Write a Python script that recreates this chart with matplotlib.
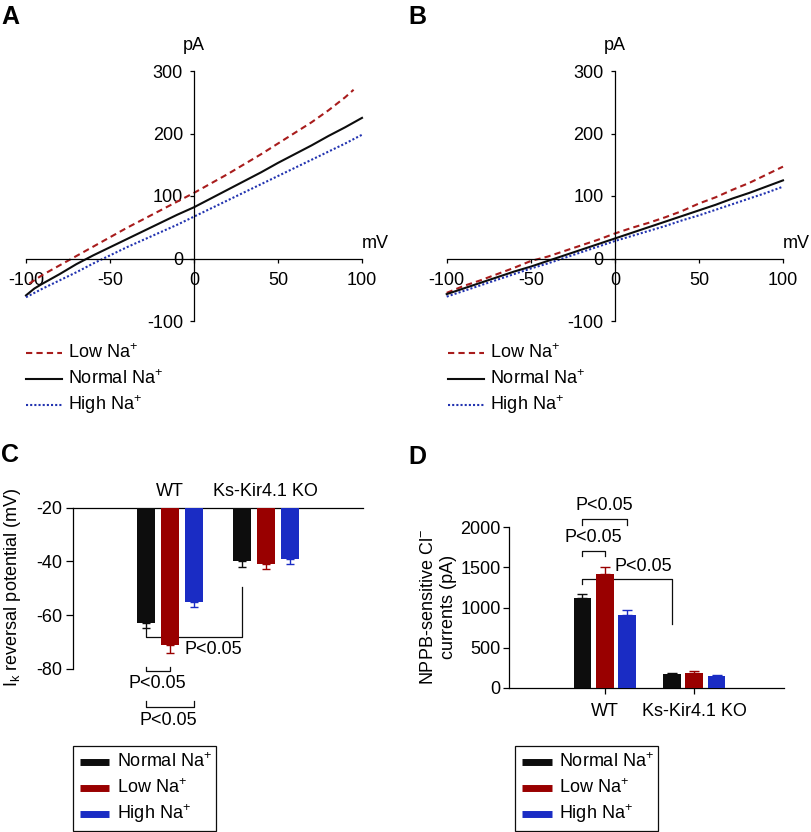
import matplotlib
matplotlib.use("Agg")
import matplotlib.pyplot as plt
import numpy as np

plt.rcParams['font.family'] = ['Liberation Sans', 'DejaVu Sans']
plt.rcParams['mathtext.fontset'] = 'custom'
plt.rcParams['mathtext.rm'] = 'Liberation Sans'
plt.rcParams['mathtext.it'] = 'Liberation Sans:italic'
plt.rcParams['axes.unicode_minus'] = False

# ---------------- data ----------------
# Panel A (WT I-V curves)
vA = [-100, -95, -90, -80, -70, -60, -50, -40, -30, -20, -10, 0, 10, 20, 30, 40, 50, 60, 70, 80, 90, 100]
a_normal = [-59, -48, -40, -25, -9, 5, 18, 31, 44, 57, 70, 82, 96, 110, 124, 138, 153, 167, 181, 196, 210, 225]
vA_low = [-98, -90, -80, -70, -60, -50, -40, -30, -20, -10, 0, 10, 20, 30, 40, 50, 60, 70, 80, 90, 95]
a_low = [-40, -26, -11, 4, 19, 34, 49, 63, 77, 91, 105, 120, 135, 151, 167, 184, 201, 218, 237, 258, 270]
vA_high = [-100, -90, -80, -70, -60, -50, -40, -30, -20, -10, 0, 10, 20, 30, 40, 50, 60, 70, 80, 90, 100]
a_high = [-62, -48, -35, -22, -8, 5, 18, 30, 42, 54, 67, 80, 93, 106, 119, 132, 145, 158, 171, 184, 198]

# Panel B (Ks-Kir4.1 KO I-V curves)
vB = [-100, -90, -80, -70, -60, -50, -40, -30, -20, -10, 0, 10, 20, 30, 40, 50, 60, 70, 80, 90, 100]
b_low = [-55, -44, -35, -25, -15, -4, 3, 12, 21, 30, 40, 49, 57, 66, 76, 88, 98, 110, 121, 134, 147]
b_normal = [-57, -48, -39, -30, -21, -13, -4, 5, 14, 23, 32, 41, 50, 59, 68, 77, 86, 96, 105, 115, 125]
b_high = [-61, -52, -43, -34, -25, -16, -8, 1, 10, 19, 28, 36, 44, 52, 61, 69, 78, 87, 96, 105, 115]

# Panel C (reversal potential)
groups = ["WT", "Ks-Kir4.1 KO"]
conditions = ["Normal Na$^{+}$", "Low Na$^{+}$", "High Na$^{+}$"]
c_mean = {"normal": [-63, -40], "low": [-71.2, -41], "high": [-55.2, -39]}
c_err = {"normal": [2, 2], "low": [2.8, 2], "high": [1.8, 2]}

# Panel D (NPPB-sensitive Cl- currents)
d_mean = {"normal": [1114, 166], "low": [1414, 179], "high": [906, 146]}
d_err = {"normal": [50, 13], "low": [87, 25], "high": [59, 12]}

BLACK = '#0d0d0d'
RED = '#990000'
BLUE = '#1a2cc4'
LRED = '#a81c1c'
LBLUE = '#2233b0'
FS = 13

W, H = 812, 832
fig = plt.figure(figsize=(W / 100, H / 100), dpi=100)


def box(left, top, right, bottom):
    return fig.add_axes([left / W, 1 - bottom / H, (right - left) / W, (bottom - top) / H])


ov = fig.add_axes([0, 0, 1, 1])
ov.set_xlim(0, W)
ov.set_ylim(H, 0)
ov.axis('off')


def iv_panel(ax, data):
    ax.set_xlim(-100, 100)
    ax.set_ylim(-100, 300)
    ax.patch.set_visible(False)
    for s in ['top', 'right']:
        ax.spines[s].set_visible(False)
    ax.spines['left'].set_position(('data', 0))
    ax.spines['bottom'].set_position(('data', 0))
    for s in ['left', 'bottom']:
        ax.spines[s].set_linewidth(0.9)
    ax.set_xticks([-100, -50, 0, 50, 100])
    ax.set_yticks([-100, 0, 100, 200, 300])
    ax.tick_params(axis='y', direction='out', length=3, width=0.9, pad=5, labelsize=FS)
    ax.tick_params(axis='x', direction='out', length=3, width=0.9, pad=7, labelsize=FS)
    for (v, y, col, ls) in data:
        ax.plot(v, y, color=col, lw=1.5, linestyle=ls, clip_on=False)


axA = box(26, 71, 362, 321)
iv_panel(axA, [(vA_low, a_low, LRED, (0, (3, 2))),
               (vA, a_normal, BLACK, '-'),
               (vA_high, a_high, LBLUE, (0, (1, 1)))])
axB = box(446.7, 71, 783, 321)
iv_panel(axB, [(vB, b_low, LRED, (0, (3, 2))),
               (vB, b_normal, BLACK, '-'),
               (vB, b_high, LBLUE, (0, (1, 1)))])

ov.text(194, 45, "pA", ha='center', va='center', fontsize=FS)
ov.text(375, 243, "mV", ha='center', va='center', fontsize=FS)
ov.text(615, 45, "pA", ha='center', va='center', fontsize=FS)
ov.text(796, 243, "mV", ha='center', va='center', fontsize=FS)

# line legends
for x0 in [26, 447.7]:
    for (yy, col, ls, lab) in [(352.7, LRED, (0, (3, 2)), "Low Na$^{+}$"),
                               (379, BLACK, '-', "Normal Na$^{+}$"),
                               (405, LBLUE, (0, (1, 1)), "High Na$^{+}$")]:
        ov.plot([x0, x0 + 36], [yy, yy], color=col, lw=1.5, linestyle=ls)
        ov.text(x0 + 42, yy, lab, ha='left', va='center', fontsize=FS)

# ---------------- Panel C ----------------
axC = box(73, 507.7, 362.7, 668.7)
axC.set_ylim(-80, -20)
axC.set_xlim(-1.01, 2.01)
axC.patch.set_visible(False)
axC.spines['bottom'].set_visible(False)
axC.spines['right'].set_visible(False)
for s in ['top', 'left']:
    axC.spines[s].set_linewidth(0.9)
axC.set_xticks([])
axC.set_yticks([-80, -60, -40, -20])
axC.tick_params(axis='y', direction='out', length=5, width=0.9, pad=3, labelsize=FS)
gx = np.arange(len(groups))
offs = [-0.25, 0, 0.25]
cols = [BLACK, RED, BLUE]
keys = ["normal", "low", "high"]
for k, off, col in zip(keys, offs, cols):
    m = np.array(c_mean[k])
    e = np.array(c_err[k])
    axC.bar(gx + off, m + 20, bottom=-20, width=0.19, color=col, zorder=3)
    axC.errorbar(gx + off, m, yerr=[e, np.zeros_like(e)], fmt='none', ecolor=col,
                 elinewidth=1, capsize=3, capthick=1, zorder=2, clip_on=False)
ov.text(13, 588, "I$_{\\mathrm{k}}$ reversal potential (mV)", rotation=90,
        ha='center', va='center', fontsize=FS)
axC.text(0, -13.8, "WT", ha='center', va='center', fontsize=FS)
axC.text(1, -13.8, "Ks-Kir4.1 KO", ha='center', va='center', fontsize=FS)

kw = dict(color=BLACK, lw=0.9, clip_on=False)
axC.plot([-0.25, -0.25, 0.75, 0.75], [-65.3, -68.3, -68.3, -49.4], **kw)
axC.text(0.45, -73, "P<0.05", ha='center', va='center', fontsize=FS)
axC.plot([-0.25, -0.25, 0, 0], [-79.3, -80.9, -80.9, -79.3], **kw)
axC.text(-0.135, -85.7, "P<0.05", ha='center', va='center', fontsize=FS)
axC.plot([-0.25, -0.25, 0.25, 0.25], [-92.0, -94.2, -94.2, -92.0], **kw)
axC.text(-0.02, -99.2, "P<0.05", ha='center', va='center', fontsize=FS)

# ---------------- Panel D ----------------
axD = box(509, 527.3, 783.7, 687.7)
axD.set_ylim(0, 2000)
axD.set_xlim(-1.07, 2.0)
axD.patch.set_visible(False)
axD.spines['top'].set_visible(False)
axD.spines['right'].set_visible(False)
for s in ['bottom', 'left']:
    axD.spines[s].set_linewidth(0.9)
axD.set_xticks(gx)
axD.set_xticklabels(groups)
axD.set_yticks([0, 500, 1000, 1500, 2000])
axD.tick_params(axis='y', direction='out', length=4, width=0.9, pad=2, labelsize=FS)
axD.tick_params(axis='x', direction='out', length=4, width=0.9, pad=7, labelsize=FS)
for k, off, col in zip(keys, offs, cols):
    m = np.array(d_mean[k])
    e = np.array(d_err[k])
    axD.bar(gx + off, m, width=0.196, color=col, zorder=3)
    axD.errorbar(gx + off, m, yerr=[np.zeros_like(e), e], fmt='none', ecolor=col,
                 elinewidth=1, capsize=3.5, capthick=1, zorder=2, clip_on=False)
ov.text(438.5, 607, "NPPB-sensitive Cl$^{-}$\ncurrents (pA)", rotation=90,
        ha='center', va='center', fontsize=FS, linespacing=1.25, multialignment='center')

axD.plot([-0.25, -0.25, 0.25, 0.25], [2030, 2101, 2101, 2030], **kw)
axD.text(0, 2268, "P<0.05", ha='center', va='center', fontsize=FS)
axD.plot([-0.25, -0.25, 0, 0], [1643, 1710, 1710, 1643], **kw)
axD.text(-0.13, 1872, "P<0.05", ha='center', va='center', fontsize=FS)
axD.plot([-0.25, -0.25, 0.75, 0.75], [1294, 1353, 1353, 795], **kw)
axD.text(0.43, 1510, "P<0.05", ha='center', va='center', fontsize=FS)

# bar legends
for (x0, x1, hx0, hx1, tx) in [(73, 216, 80, 109, 116.7), (515, 657.7, 522, 552, 558.7)]:
    ov.add_patch(plt.Rectangle((x0, 745.5), x1 - x0, 85.5, fill=False, edgecolor=BLACK, lw=0.9))
    for (yy, col, lab) in zip([762, 788, 814], cols, conditions):
        ov.plot([hx0, hx1], [yy, yy], color=col, lw=5, solid_capstyle='butt')
        ov.text(tx, yy, lab, ha='left', va='center', fontsize=FS)

# panel letters
for (x, y, t) in [(1, 5, "A"), (408, 5, "B"), (1, 443, "C"), (408, 445, "D")]:
    ov.text(x, y, t, ha='left', va='top', fontsize=18, fontweight='bold')

fig.savefig("out.png", dpi=100)
